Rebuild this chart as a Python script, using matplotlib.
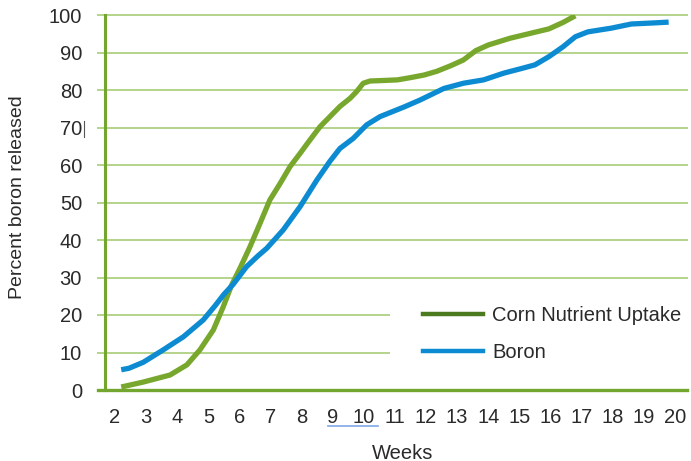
import matplotlib
matplotlib.use("Agg")
import matplotlib.pyplot as plt
from matplotlib.lines import Line2D
from matplotlib.patches import Rectangle

plt.rcParams['font.family'] = ['Liberation Sans', 'DejaVu Sans']

weeks_ticks = list(range(2, 21))

corn_x = [2.2, 2.9, 3.77, 4.31, 4.73, 5.16, 5.48, 5.75, 6.02, 6.34, 6.66, 6.98, 7.31, 7.63,
          7.95, 8.27, 8.59, 8.91, 9.23, 9.56, 9.77, 9.98, 10.2, 10.52, 11.08, 11.5, 11.94,
          12.35, 12.8, 13.2, 13.6, 14.0, 14.7, 15.3, 15.95, 16.4, 16.8]
corn_y = [0.8, 2.1, 4.0, 6.7, 10.7, 16.0, 22.2, 28.0, 32.5, 38.2, 44.4, 50.7, 55.1, 59.6,
          63.1, 66.7, 70.2, 72.9, 75.6, 77.8, 79.6, 81.8, 82.4, 82.5, 82.7, 83.3, 84.0,
          85.0, 86.5, 88.0, 90.5, 92.0, 93.8, 95.0, 96.3, 98.0, 99.8]

boron_x = [2.2, 2.45, 2.91, 3.55, 4.2, 4.84, 5.22, 5.5, 5.8, 6.23, 6.6, 6.88, 7.41, 7.95,
           8.49, 8.91, 9.23, 9.66, 10.09, 10.52, 11.3, 11.8, 12.57, 13.2, 13.85, 14.5, 15.1,
           15.5, 15.95, 16.4, 16.8, 17.2, 17.96, 18.6, 19.35, 19.8]
boron_y = [5.4, 5.8, 7.4, 10.7, 14.2, 18.7, 22.5, 25.5, 28.2, 32.9, 35.8, 37.8, 42.7, 48.9,
           56.0, 61.0, 64.4, 67.1, 70.7, 72.9, 75.5, 77.3, 80.4, 81.8, 82.7, 84.5, 85.8,
           86.7, 88.9, 91.5, 94.2, 95.5, 96.5, 97.6, 97.9, 98.1]

labels = ["Corn Nutrient Uptake", "Boron"]

W, H = 691, 461
fig = plt.figure(figsize=(W / 100, H / 100), dpi=100)
left_px, right_px, top_px, bottom_px = 98, 687, 15, 390
ax = fig.add_axes([left_px / W, 1 - bottom_px / H, (right_px - left_px) / W, (bottom_px - top_px) / H])

grid_c = '#b3d38a'
axis_c = '#72a62e'
corn_c = '#78a72d'
corn_leg = '#4c7a1e'
boron_c = '#0d8bd2'
text_c = '#2a2a2a'
fs = 14.5

ax.set_xlim(1.453, 20.39)
ax.set_ylim(0, 100)
ax.set_yticks(range(0, 101, 10))
ax.set_xticks(weeks_ticks)
for y in range(10, 101, 10):
    ax.axhline(y, color=grid_c, lw=1.4, zorder=1, clip_on=False)
ax.axhline(0, color=axis_c, lw=2.4, zorder=2, clip_on=False)
ax.axvline(1.68, color=axis_c, lw=2.2, zorder=2, clip_on=False)
for s in ax.spines.values():
    s.set_visible(False)
ax.tick_params(length=0, labelsize=fs, colors=text_c)
ax.tick_params(axis='x', pad=13)
ax.tick_params(axis='y', pad=11.5)

# white legend background covering gridlines
x0 = (390 - left_px) / (right_px - left_px)
ax.add_patch(Rectangle((x0, 0.025), 1.02 - x0, 0.245, transform=ax.transAxes,
                       facecolor='white', edgecolor='none', zorder=1.5, clip_on=False))

ax.plot(corn_x, corn_y, color=corn_c, lw=3.8, solid_capstyle='butt', zorder=4)
ax.plot(boron_x, boron_y, color=boron_c, lw=3.8, solid_capstyle='butt', zorder=4)

handles = [Line2D([], [], color=corn_leg, lw=3.2), Line2D([], [], color=boron_c, lw=3.2)]
leg_x = (423 - left_px) / (right_px - left_px)
leg_y = (bottom_px - 334) / (bottom_px - top_px)
leg = ax.legend(handles, labels, loc='center left', bbox_to_anchor=(leg_x, leg_y),
                frameon=False, fontsize=fs, handlelength=3.0, handletextpad=0.45,
                labelspacing=0.85, borderpad=0, borderaxespad=0)
leg.set_zorder(3)
for t in leg.get_texts():
    t.set_color(text_c)

fig.text(403 / W, 1 - 453 / H, 'Weeks', fontsize=fs, color=text_c, ha='center', va='center')
fig.text(18 / W, 1 - 197 / H, 'Percent boron released', fontsize=14, color=text_c,
         ha='center', va='center', rotation=90)

# artifacts in the reference: spell-check underline under "9 10" and a cursor after 70
fig.add_artist(Line2D([328 / W, 378 / W], [1 - 426 / H, 1 - 426 / H], color='#7fa8e8', lw=1.2))
fig.add_artist(Line2D([84 / W, 84 / W], [1 - 121 / H, 1 - 137 / H], color='#555555', lw=0.8))

fig.savefig('out.png', dpi=100)
